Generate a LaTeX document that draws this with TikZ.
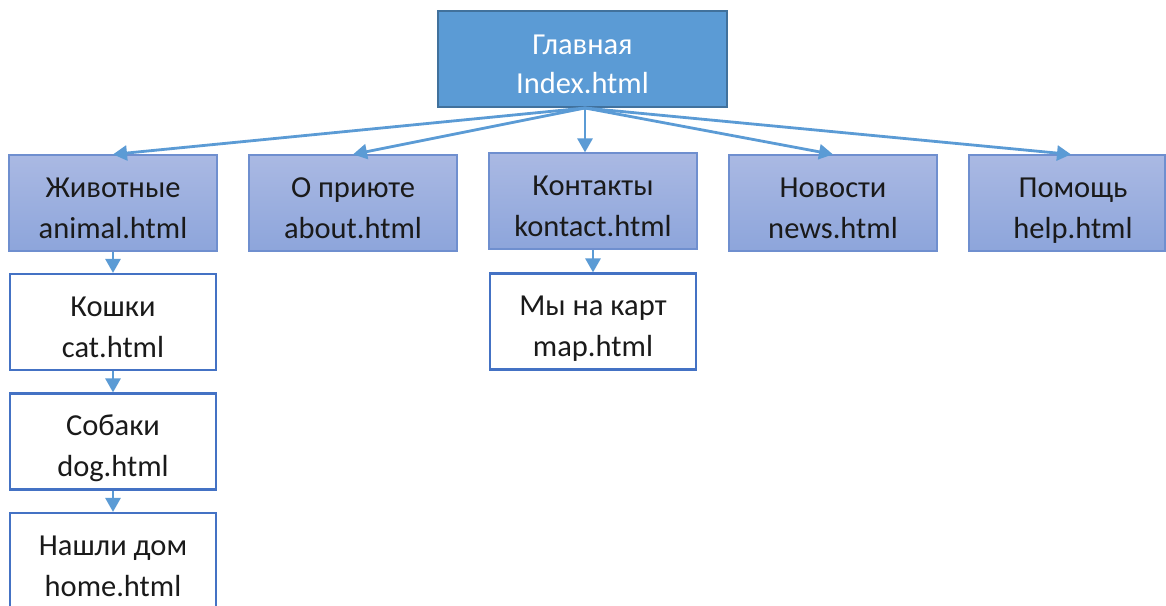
\documentclass[tikz,border=0pt]{standalone}
\usepackage{fontspec}
\setmainfont{Carlito}
\usetikzlibrary{arrows.meta}
\definecolor{rootfill}{HTML}{5B9BD5}
\definecolor{rootline}{HTML}{41719C}
\definecolor{secttop}{HTML}{AAB9E3}
\definecolor{sectbot}{HTML}{8DA5DB}
\definecolor{sectline}{HTML}{6F8FCF}
\definecolor{pageline}{HTML}{4472C4}
\definecolor{linkcol}{HTML}{5B9BD5}
\definecolor{ink}{HTML}{1A1A1A}

% two centred lines, set a little below the middle of the box
\newcommand{\pagelabel}[2]{\raisebox{-13pt}[0pt][0pt]{\begin{tabular}{@{}c@{}}#1\\#2\end{tabular}}}

\begin{document}
\begin{tikzpicture}[x=1pt,y=-1pt,
  every node/.style={font=\fontsize{30.5}{41}\selectfont, inner sep=0pt},
  root/.style={draw=rootline, line width=2pt, fill=rootfill, text=white,
    font=\fontsize{30.5}{39}\selectfont, minimum width=289pt, minimum height=96pt},
  section/.style={draw=sectline, line width=1.2pt, top color=secttop, bottom color=sectbot,
    text=ink, minimum width=208pt, minimum height=96pt},
  page/.style={draw=pageline, line width=2.2pt, fill=white, text=ink,
    minimum width=206pt, minimum height=96pt},
  link/.style={draw=linkcol, line width=2.8pt, -{Triangle[length=14pt,width=15pt]}}
]
\clip (0,0) rectangle (1166,605);
\fill[white] (0,0) rectangle (1166,605);

% home page
\node[root] (main) at (582.5,59) {\pagelabel{Главная}{Index.html}};

% site sections
\node[section] (animal)  at (113,203) {\pagelabel{Животные}{animal.html}};
\node[section] (about)   at (353,203) {\pagelabel{О приюте}{about.html}};
\node[section] (contact) at (593,201) {\pagelabel{Контакты}{kontact.html}};
\node[section] (news)    at (833,203) {\pagelabel{Новости}{news.html}};
\node[section, minimum width=196pt] (help) at (1067,203)
  {\hspace*{12pt}\pagelabel{Помощь}{help.html}};

% sub-pages
\node[page] (cat)  at (113,322)   {\pagelabel{Кошки}{cat.html}};
\node[page] (dog)  at (113,441.5) {\pagelabel{Собаки}{dog.html}};
\node[page] (home) at (113,561)   {\pagelabel{Нашли дом}{home.html}};
\node[page] (map)  at (593,321.5) {\pagelabel{Мы на карт}{map.html}};

% links
\coordinate (hub) at ([xshift=2.5pt]main.south);
\draw[link] (hub) -- (animal.north);
\draw[link] (hub) -- (about.north);
\draw[link] (hub) -- (hub |- contact.north);
\draw[link] (hub) -- (news.north);
\draw[link] (hub) -- ([xshift=4pt]help.north);
\draw[link] (animal.south) -- (cat.north);
\draw[link] (cat.south) -- (dog.north);
\draw[link] (dog.south) -- (home.north);
\draw[link] (contact.south) -- (map.north);
\end{tikzpicture}
\end{document}
